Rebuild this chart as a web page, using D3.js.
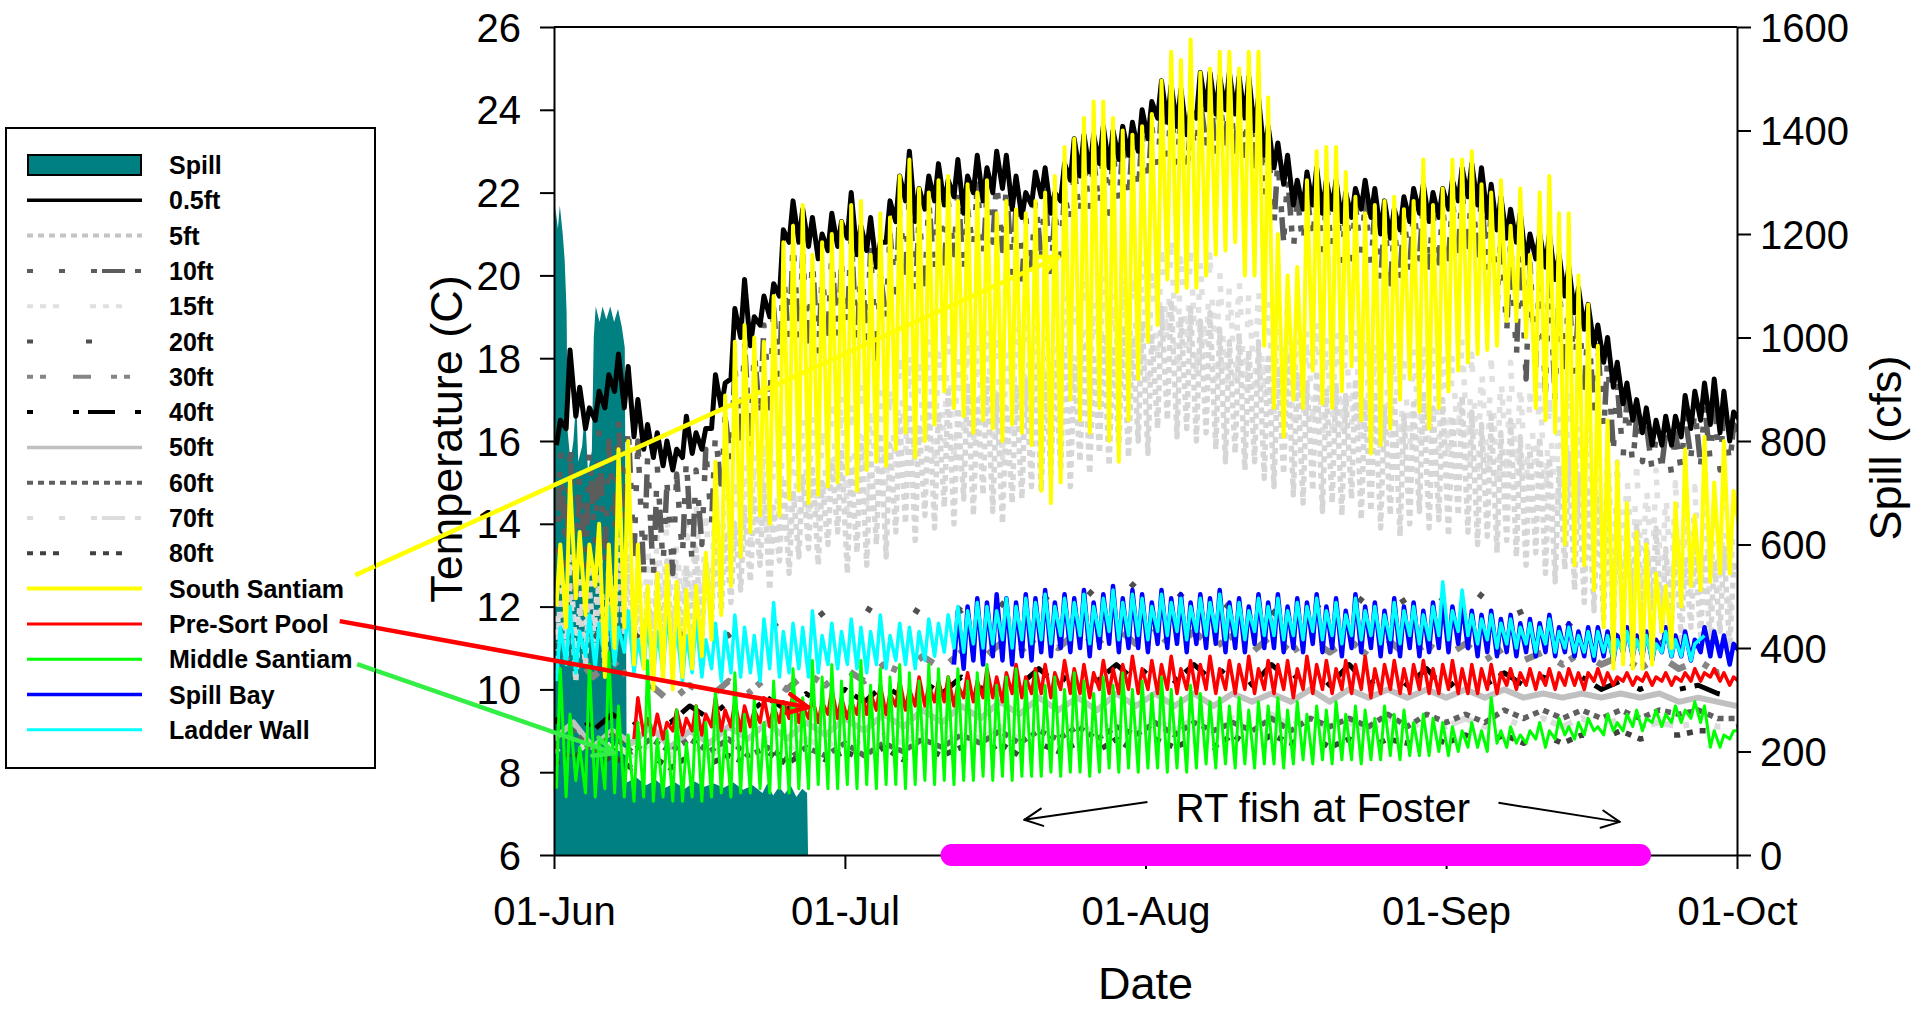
<!DOCTYPE html>
<html>
<head>
<meta charset="utf-8">
<script src="https://cdn.jsdelivr.net/npm/d3@7"></script>
<style>
  body { margin: 0; background: #fff; }
  text { font-family: "Liberation Sans", Arial, sans-serif; }
</style>
</head>
<body>
<svg id="chart" width="1917" height="1010"></svg>
<script>
// ---- data (day 0 = 01-Jun) ----
const tempTicks = [6, 8, 10, 12, 14, 16, 18, 20, 22, 24, 26];
const spillTicks = [0, 200, 400, 600, 800, 1000, 1200, 1400, 1600];

// spill, [day, cfs]
const spill = [[0,1180],[0.15,1250],[0.4,1210],[0.6,1255],[0.9,1200],[1.1,1150],[1.3,1050],[1.4,820],[1.7,760],[2.0,800],
  [2.3,880],[2.5,760],[2.9,790],[3.2,860],[3.5,740],[3.9,780],[4.1,1000],[4.3,1060],[4.7,1030],[5.0,1060],[5.4,1035],
  [5.8,1060],[6.2,1030],[6.6,1055],[7.0,1020],[7.3,980],[7.5,140],[8.5,150],[9.5,135],[10.5,145],[11.5,130],[12.5,140],
  [13.5,128],[14.5,142],[15.5,132],[16.5,138],[17.5,130],[18.5,140],[19.5,126],[20.5,135],[21.5,120],[22.0,138],
  [22.6,115],[23.2,132],[23.8,118],[24.4,135],[25.0,112],[25.6,128],[26.1,120],[26.2,0]];

// daily highs / lows
const ft05Hi = [16.5,18.2,17.3,16.8,17.2,17.6,18.1,17.8,17.0,16.4, 16.2,16.0,15.8,16.6,16.2,16.3,17.6,17.4,19.2,19.9,
  19.0,19.5,19.8,21.1,21.8,21.6,21.4,21.0,21.5,21.3, 22.0,21.2,21.4,20.8,21.8,22.4,23.0,22.1,22.4,22.7,
  22.3,22.8,22.4,22.9,22.6,23.0,22.9,22.4,22.0,22.5, 22.6,22.0,22.7,23.3,23.4,23.4,23.6,23.5,23.6,23.7,
  24.0,24.2,24.7,24.6,24.5,24.0,24.9,24.9,24.8,24.9, 24.8,24.8,24.3,23.6,23.2,22.9,22.3,22.5,22.6,22.3,
  22.3,22.0,22.1,22.3,22.1,21.8,21.6,21.9,22.1,22.2, 22.0,22.1,22.3,22.6,22.7,22.6,22.2,21.9,21.6,21.5,
  21.0,21.0,21.0,20.5,20.2,19.7,19.3,18.8,18.5,17.9, 17.4,17.0,16.8,16.5,16.6,16.6,17.1,17.2,17.4,17.5, 17.2,16.7,16.4];
const ft05Lo = [15.9,16.3,16.6,16.3,16.5,16.8,17.2,16.8,16.1,15.8, 15.6,15.4,15.3,15.6,15.7,15.8,16.3,16.8,17.5,18.5,
  18.3,18.8,19.0,19.5,20.8,20.8,20.7,20.4,20.6,20.7, 20.9,20.5,20.6,20.2,20.8,21.3,21.8,21.3,21.6,21.8,
  21.7,21.9,21.5,22.0,21.8,22.0,22.1,21.6,21.4,21.7, 21.9,21.5,21.8,22.3,22.4,22.5,22.7,22.6,22.8,22.9,
  23.0,23.3,23.8,23.7,23.6,23.4,23.8,24.0,23.9,24.0, 23.9,23.8,23.5,22.9,22.6,22.2,21.7,21.6,21.7,21.5,
  21.6,21.3,21.4,21.6,21.4,21.0,20.9,21.1,21.3,21.5, 21.3,21.4,21.6,21.8,21.9,21.7,21.4,21.1,20.9,20.8,
  20.3,20.4,20.2,19.9,19.5,19.1,18.7,18.3,17.9,17.3, 16.9,16.5,16.2,15.9,15.9,15.9,16.1,16.3,16.5,16.4, 16.2,16.0];

const ft10Hi = [15.8,16.0,15.5,15.8,16.2,16.0,16.5,16.4,16.0,15.6, 15.4,15.0,15.2,15.6,15.3,15.8,16.2,16.6,17.8,18.4,
  18.2,18.8,19.2,20.2,20.8,20.5,20.4,20.0,20.5,20.3, 21.0,20.4,20.6,20.0,21.0,21.6,22.0,21.4,21.8,22.0,
  21.8,22.1,21.6,22.2,22.0,22.3,22.2,21.7,21.4,21.9, 22.0,21.5,22.0,22.6,22.8,22.8,23.0,23.0,23.1,23.2,
  23.4,23.6,24.0,24.0,23.9,23.6,24.2,24.4,24.2,24.4, 24.2,24.2,23.8,23.2,22.8,22.4,21.9,22.0,22.1,21.8,
  21.9,21.6,21.7,21.8,21.6,21.3,21.1,21.4,21.6,21.8, 21.5,21.6,21.8,22.0,22.1,22.0,21.6,21.2,20.9,20.6,
  20.3,20.2,20.0,19.8,19.6,19.2,18.8,18.3,18.0,17.4, 17.0,16.6,16.4,16.1,16.2,16.2,16.6,16.8,16.9,17.0, 16.8,16.4,16.0];
const ft10Lo = [12.5,13.0,12.2,12.8,13.5,13.0,13.8,14.0,13.2,12.8, 12.6,13.0,12.8,13.2,13.0,13.5,14.0,14.8,15.5,16.0,
  15.8,16.5,16.8,17.5,18.2,18.5,18.3,18.0,18.6,18.4, 18.8,18.2,18.5,18.0,19.0,19.6,20.0,19.5,19.8,20.0,
  20.2,20.5,20.0,20.6,20.4,20.8,20.6,20.0,19.8,20.2, 20.4,20.0,20.5,21.2,21.4,21.5,21.6,21.5,21.7,21.8,
  22.0,22.2,22.6,22.8,22.6,22.4,23.0,23.2,23.0,23.2, 23.0,22.9,22.5,21.8,21.2,20.8,20.6,20.7,20.8,20.5,
  20.6,20.3,20.4,20.5,20.2,19.9,19.8,20.0,20.2,20.4, 20.2,20.3,20.4,20.6,20.7,20.5,20.0,19.2,18.6,18.0,
  17.5,17.8,17.2,17.0,17.8,17.6,17.3,16.8,16.2,15.8, 15.6,15.4,15.5,15.3,15.4,15.2,15.3,15.6,15.4,15.5, 15.3,15.4];

const ft15Hi = [12.8,13.2,12.6,13.0,13.4,12.9,13.6,13.8,13.2,13.5, 13.8,14.2,13.6,14.0,14.5,14.2,14.8,15.2,15.0,15.6,
  15.8,16.2,15.6,16.4,16.0,16.6,16.8,16.2,16.9,17.2, 16.8,17.3,17.0,17.6,17.2,18.0,18.3,17.8,18.4,18.1,
  18.6,18.2,18.8,18.4,18.9,18.5,18.2,18.7,18.9,19.2, 19.0,19.4,19.6,19.2,19.8,19.5,20.0,19.7,20.2,19.9,
  20.3,20.0,20.6,20.8,20.4,20.6,20.3,20.5,20.1,19.8, 20.0,19.6,19.8,19.4,19.2,19.5,19.0,18.8,19.1,18.6,
  18.8,18.5,18.9,18.4,18.6,18.2,18.5,18.0,18.3,18.6, 18.2,18.4,18.0,18.5,18.1,17.8,18.0,17.6,17.9,17.5,
  17.2,17.5,17.0,16.8,17.1,16.6,16.3,16.0,15.8,15.5, 15.2,15.4,15.0,15.3,14.8,15.0,14.6,14.9,14.7,14.5, 14.8,14.4,14.2];
const ft15Lo = [11.0,11.4,10.8,11.2,11.6,11.0,11.8,12.0,11.4,11.2, 11.6,11.9,11.4,11.8,12.2,11.9,12.4,12.6,12.8,13.2,
  13.4,13.8,13.2,13.9,13.6,14.0,14.2,13.8,14.3,14.6, 14.2,14.8,14.5,15.0,14.7,15.3,15.6,15.2,15.8,15.5,
  16.0,15.6,16.2,15.8,16.3,15.9,15.6,16.1,16.3,16.6, 16.4,16.8,17.0,16.6,17.2,16.9,17.4,17.1,17.6,17.3,
  17.7,17.4,18.0,18.2,17.8,18.0,17.7,17.9,17.5,17.2, 17.4,17.0,17.2,16.8,16.6,16.9,16.4,16.2,16.5,16.0,
  16.2,15.9,16.3,15.8,16.0,15.6,15.9,15.4,15.7,16.0, 15.6,15.8,15.4,15.9,15.5,15.2,15.4,15.0,15.3,14.9,
  14.6,14.9,14.4,14.2,14.5,14.0,13.7,13.4,13.2,12.9, 12.6,12.8,12.4,12.7,12.2,12.4,12.0,12.3,12.1,11.9, 12.2,11.8];

const ft5Hi = [12.2,12.6,12.0,12.4,12.8,12.3,13.0,13.2,12.6,12.4, 12.8,13.1,12.6,13.0,13.4,13.1,13.6,13.8,14.0,14.4,
  14.6,15.0,14.4,15.1,14.8,15.2,15.4,15.0,15.5,15.8, 15.4,16.0,15.7,16.2,15.9,16.5,16.8,16.4,17.0,16.7,
  17.2,16.8,17.4,17.0,17.5,17.1,16.8,17.3,17.5,17.8, 17.6,18.0,18.2,17.8,18.4,18.1,18.6,18.3,18.8,18.5,
  18.9,18.6,19.2,19.4,19.0,19.2,18.9,19.1,18.7,18.4, 18.6,18.2,18.4,18.0,17.8,18.1,17.6,17.4,17.7,17.2,
  17.4,17.1,17.5,17.0,17.2,16.8,17.1,16.6,16.9,17.2, 16.8,17.0,16.6,17.1,16.7,16.4,16.6,16.2,16.5,16.1,
  15.8,16.1,15.6,15.4,15.7,15.2,14.9,14.6,14.4,14.1, 13.8,14.0,13.6,13.9,13.4,13.6,13.2,13.5,13.3,13.1, 13.4,13.0,12.8];
const ft5Lo = [10.4,10.8,10.2,10.6,11.0,10.5,11.2,11.4,10.8,10.6, 10.9,11.2,10.8,11.1,11.5,11.2,11.7,11.9,12.1,12.4,
  12.6,13.0,12.4,13.1,12.8,13.2,13.4,13.0,13.5,13.8, 12.8,13.3,13.0,13.5,13.2,13.8,14.0,13.6,14.2,13.9,
  14.4,14.0,14.6,14.2,14.7,14.3,14.0,14.5,14.6,14.9, 14.8,15.2,15.3,14.9,15.5,15.2,15.7,15.4,15.9,15.6,
  16.0,15.7,16.3,16.5,16.1,16.3,16.0,16.2,15.8,15.5, 15.7,15.3,15.5,15.1,14.9,15.2,14.7,14.5,14.8,14.3,
  14.5,14.2,14.6,14.1,14.3,13.9,14.2,13.7,14.0,14.3, 13.9,14.1,13.7,14.2,13.8,13.5,13.7,13.3,13.6,13.2,
  13.0,13.3,12.8,12.6,12.9,12.4,12.1,11.9,11.7,11.5, 11.8,12.0,11.6,11.9,11.4,11.6,11.2,11.5,11.3,11.1, 11.4,11.0];

const southHi = [13.5,15.1,13.8,13.5,14.0,13.5,15.8,16.0,13.5,12.5, 12.8,13.0,12.6,12.4,12.5,13.3,15.5,17.1,18.4,18.8,
  18.5,18.4,19.5,20.8,21.2,21.7,20.5,20.8,21.0,21.3, 21.7,21.8,20.5,21.5,21.4,22.4,22.8,22.1,22.0,22.3,
  22.4,21.8,22.2,22.0,22.3,21.5,21.8,21.6,21.5,21.8, 22.0,22.4,23.1,23.3,23.8,24.2,24.2,23.8,23.5,23.4,
  23.6,23.9,24.7,25.4,25.2,25.7,24.9,25.0,25.4,25.4, 25.0,25.4,25.4,24.3,21.0,20.0,20.2,22.3,23.0,23.1,
  23.1,22.5,21.9,21.5,21.7,21.8,21.9,21.6,21.8,22.8, 21.7,22.1,22.8,22.8,23.0,22.2,22.0,22.3,21.2,22.1,
  20.5,22.0,22.4,21.5,21.5,20.0,19.3,18.3,16.5,15.5, 14.5,13.8,13.5,12.8,12.5,14.5,15.8,14.2,16.1,15.0, 16.0,14.8,13.2];
const southLo = [12.0,11.5,12.2,11.8,12.5,10.3,11.0,11.5,10.6,10.5, 10.0,10.2,10.0,10.3,10.5,10.8,11.2,11.8,12.5,13.2,
  13.8,14.2,14.0,14.2,14.6,14.8,14.5,14.7,14.9,15.0, 15.2,14.8,15.3,15.5,15.4,15.8,16.2,15.6,16.0,16.4,
  17.2,16.8,16.6,16.2,16.5,16.3,16.0,16.4,16.2,15.9, 14.8,14.5,15.0,17.0,16.5,16.2,16.8,16.0,15.5,16.5,
  17.5,18.4,18.8,19.9,19.6,19.7,19.7,20.0,20.5,20.6, 20.8,20.0,20.0,18.3,16.8,16.1,17.0,16.8,17.7,16.9,
  16.8,17.2,17.8,16.5,15.7,15.9,16.3,17.0,17.5,16.7, 16.3,16.8,17.2,17.7,17.9,18.1,18.2,18.3,18.9,18.9,
  18.5,16.8,16.5,16.2,13.5,13.0,13.0,12.4,11.5,10.5, 10.6,10.5,10.5,10.6,11.4,11.0,12.0,12.5,12.4,12.6, 12.8,12.8];

const middleHi = [10.5,9.4,8.6,10.6,8.8,10.9,9.6,8.9,9.2,10.7, 8.8,9.0,9.5,8.7,9.6,9.2,10.0,9.0,10.4,9.4,
  9.8,9.2,10.2,9.6,10.5,9.8,10.7,10.3,10.6,10.2, 10.4,10.7,10.1,10.5,10.3,10.6,10.4,10.2,10.6,10.5,
  10.3,10.5,10.2,10.4,10.6,10.1,10.3,10.5,10.2,10.4, 10.1,10.3,10.0,10.4,10.2,9.9,10.3,10.1,10.4,10.0,
  10.2,9.9,10.3,10.0,9.8,10.1,9.9,9.7,9.8,9.6, 9.8,9.5,9.7,9.6,9.8,9.5,9.7,9.4,9.6,9.5,
  9.7,9.4,9.6,9.5,9.3,9.6,9.4,9.5,9.2,9.4, 9.3,9.2,9.1,9.0,9.2,9.0,9.8,9.0,9.1,8.9,
  9.0,9.2,9.0,9.3,9.1,9.2,9.3,9.1,9.4,9.2, 9.4,9.5,9.3,9.5,9.4,9.6,9.5,9.7,9.6,9.0, 8.9,9.0,9.0];
const middleLo = [7.6,7.4,7.8,7.5,7.4,7.6,7.5,7.4,7.3,7.4, 7.3,7.4,7.3,7.3,7.4,7.3,7.4,7.5,7.4,7.5,
  7.5,7.6,7.5,7.6,7.5,7.6,7.6,7.7,7.6,7.6, 7.7,7.6,7.7,7.6,7.7,7.7,7.6,7.7,7.8,7.7,
  7.8,7.7,7.8,7.8,7.9,7.8,7.9,7.8,7.9,7.9, 7.9,8.0,7.9,8.0,8.0,7.9,8.0,8.1,8.0,8.1,
  8.0,8.1,8.1,8.0,8.1,8.0,8.1,8.2,8.1,8.2, 8.1,8.2,8.1,8.2,8.2,8.1,8.2,8.3,8.2,8.3,
  8.2,8.3,8.3,8.2,8.3,8.3,8.4,8.3,8.4,8.4, 8.4,8.5,8.4,8.5,8.6,8.6,8.5,8.7,8.6,8.7,
  8.7,8.8,8.6,8.8,8.9,8.8,8.9,9.0,8.9,9.0, 9.0,9.1,9.0,9.2,9.1,9.2,9.2,9.3,9.2,8.6, 8.6,8.8];

const ladderHi = [11.5,12.0,11.4,11.8,11.6,12.0,11.5,11.9,11.2,11.6, 11.4,11.8,11.5,11.3,11.7,11.2,11.6,11.4,11.8,11.5,
  11.3,11.7,12.1,11.4,11.6,11.5,11.9,11.3,11.6,11.4, 11.7,11.5,11.4,11.8,11.3,11.6,11.5,11.4,11.7,11.6,
  11.8,12.0,11.9,12.1,12.0,11.9,12.2,12.0,12.2,12.1, 12.3,12.0,12.2,12.1,12.3,12.0,12.2,12.4,12.1,12.3,
  12.2,12.0,12.3,12.1,12.2,12.0,12.2,12.1,12.3,12.0, 12.1,11.9,12.2,12.0,12.2,11.9,12.1,12.0,12.2,11.9,
  12.1,11.8,12.2,11.9,12.0,11.8,12.1,11.9,12.0,11.8, 12.0,12.6,11.9,12.4,11.8,11.7,11.8,11.6,11.7,11.5,
  11.6,11.5,11.7,11.4,11.5,11.3,11.4,11.4,11.3,11.2, 11.4,11.2,11.3,11.1,11.4,11.2,11.3,11.1,11.3];
const ladderLo = [10.2,10.6,10.4,10.8,10.5,10.7,10.6,10.9,10.4,10.5, 10.3,10.4,10.6,10.2,10.4,10.3,10.5,10.2,10.4,10.3,
  10.4,10.2,10.5,10.3,10.4,10.5,10.3,10.4,10.6,10.5, 10.6,10.5,10.4,10.6,10.5,10.7,10.6,10.5,10.7,10.8,
  10.9,11.0,10.9,11.1,11.0,11.1,11.2,11.0,11.2,11.1, 11.2,11.1,11.3,11.2,11.3,11.1,11.3,11.4,11.2,11.3,
  11.3,11.2,11.4,11.3,11.4,11.2,11.4,11.3,11.4,11.2, 11.3,11.2,11.4,11.3,11.3,11.2,11.3,11.2,11.4,11.2,
  11.3,11.1,11.3,11.2,11.3,11.1,11.2,11.1,11.3,11.1, 11.2,11.3,11.2,11.4,11.3,11.1,11.2,11.0,11.1,11.0,
  11.1,10.9,11.1,10.9,11.0,10.9,10.9,10.8,10.9,10.7, 10.9,10.8,10.8,10.7,10.9,10.8,10.8,10.7];

const bayFirstDay = 41;
const bayHi = [11.9,12.0,12.2,12.1,12.3,12.2,12.1,12.3,12.2,
  12.4,12.1,12.3,12.2,12.4,12.1,12.3,12.5,12.2,12.4, 12.3,12.1,12.4,12.2,12.3,12.1,12.3,12.2,12.4,12.1,
  12.2,12.0,12.3,12.1,12.3,12.0,12.2,12.1,12.3,12.0, 12.2,11.9,12.3,12.0,12.1,11.9,12.2,12.0,12.1,11.9,
  12.1,12.2,12.0,12.1,11.9,11.8,11.9,11.7,11.8,11.6, 11.7,11.6,11.8,11.5,11.6,11.4,11.5,11.5,11.4,11.3,
  11.5,11.3,11.4,11.2,11.5,11.3,11.4,11.2,11.5,11.4, 11.3,11.1,10.8];
const bayLo = [10.6,10.5,10.7,10.6,10.8,10.7,10.6,10.8,10.7,
  10.9,10.8,11.0,10.9,11.0,10.8,11.0,11.1,10.9,11.0, 11.0,10.9,11.1,11.0,11.1,10.9,11.1,11.0,11.1,10.9,
  11.0,10.9,11.1,11.0,11.0,10.9,11.0,10.9,11.1,10.9, 11.0,10.8,11.0,10.9,11.0,10.8,10.9,10.8,11.0,10.8,
  10.9,11.0,10.9,11.1,11.0,10.8,10.9,10.8,10.9,10.8, 10.9,10.8,10.9,10.8,10.9,10.8,10.8,10.7,10.8,10.7,
  10.9,10.8,10.8,10.7,10.9,10.8,10.8,10.7,10.9,10.8, 10.8,10.6];

const poolFirstDay = 8;
const poolHi = [9.8,9.3,
  9.4,9.2,9.5,9.3,9.6,9.4,9.8,9.5,9.7,9.6, 9.5,9.8,9.6,9.7,9.9,9.6,9.8,9.7,10.0,9.8,
  9.7,10.0,9.9,10.1,9.9,10.2,10.0,10.3,10.1,10.2, 10.3,10.1,10.4,10.2,10.5,10.3,10.4,10.6,10.3,10.5,
  10.6,10.4,10.7,10.5,10.6,10.4,10.7,10.5,10.6,10.8, 10.5,10.7,10.6,10.8,10.5,10.7,10.6,10.8,10.5,10.7,
  10.6,10.8,10.5,10.7,10.6,10.7,10.5,10.8,10.6,10.7, 10.5,10.7,10.6,10.8,10.5,10.6,10.7,10.5,10.6,10.7,
  10.5,10.6,10.7,10.5,10.6,10.5,10.6,10.4,10.5,10.4, 10.5,10.4,10.5,10.4,10.5,10.4,10.4,10.5,10.4,10.3,
  10.4,10.3,10.4,10.3,10.4,10.3,10.4,10.5,10.4,10.5, 10.4,10.3,10.1];
const poolLo = [8.8,8.9,
  8.9,8.8,9.0,8.9,9.0,8.9,9.1,9.0,9.1,9.0, 9.1,9.2,9.1,9.2,9.3,9.2,9.3,9.2,9.4,9.3,
  9.3,9.4,9.4,9.5,9.4,9.6,9.5,9.6,9.6,9.7, 9.7,9.6,9.8,9.7,9.8,9.8,9.7,9.9,9.8,9.9,
  9.9,9.8,10.0,9.9,9.9,9.8,10.0,9.9,9.9,10.0, 9.9,10.0,9.9,10.0,9.9,10.0,9.9,10.0,9.9,10.0,
  9.9,10.0,9.9,10.0,9.9,10.0,9.8,10.0,9.9,10.0, 9.9,10.0,9.9,10.0,9.8,9.9,10.0,9.9,9.9,10.0,
  9.9,9.9,10.0,9.9,9.9,9.9,10.0,9.9,10.1,10.0, 10.1,10.0,10.1,10.0,10.1,10.1,10.0,10.2,10.1,10.1,
  10.2,10.1,10.2,10.1,10.2,10.1,10.2,10.2,10.2,10.3, 10.2,10.1];

// deeper loggers, one value every 2 days
const deepStep = 2;
const ft20 = [11.0,11.6,11.2,11.8,11.4,11.0,11.5,11.2,11.6,11.3, 11.7,11.4,11.8,11.5,11.9,11.6,12.0,11.7,12.1,11.8,
  12.3,11.9,12.4,12.0,12.5,12.1,12.4,12.0,12.5,12.1, 12.6,12.2,12.4,12.0,12.3,11.9,12.2,11.8,12.3,11.9,
  12.2,11.8,12.4,11.9,12.2,11.7,12.3,11.8,12.4,11.7, 11.9,11.5,11.7,11.3,11.6,11.2,11.5,11.1,11.4,11.0, 11.2,10.9];
const ft30 = [10.5,10.9,10.3,10.7,10.2,10.1,9.7,10.1,9.8,10.2, 9.9,10.3,10.0,10.4,10.1,10.5,10.2,10.6,10.4,10.8,
  10.5,10.9,10.7,11.1,10.9,11.3,11.0,11.4,11.1,11.5, 11.1,11.4,11.0,11.4,11.0,11.3,10.9,11.3,10.9,11.2,
  10.9,11.2,10.8,11.2,10.8,11.1,10.8,11.1,10.7,11.0, 10.7,10.9,10.6,10.9,10.6,10.8,10.5,10.8,10.5,10.7, 10.4,10.5];
const ft40 = [9.2,9.6,9.0,9.4,9.1,9.5,9.2,9.6,9.3,9.7, 9.4,9.8,9.5,9.9,9.6,10.0,9.7,10.1,9.8,10.2,
  9.9,10.3,10.0,10.4,10.1,10.5,10.1,10.6,10.2,10.6, 10.2,10.7,10.2,10.6,10.2,10.7,10.1,10.6,10.2,10.6,
  10.1,10.6,10.1,10.5,10.1,10.5,10.0,10.4,10.1,10.4, 10.1,10.3,10.1,10.3,10.0,10.2,10.0,10.2,10.0,10.1, 9.9,9.8];
const ft50 = [8.8,9.2,8.6,9.0,8.7,9.1,8.6,9.0,8.7,9.1, 8.8,9.2,8.8,9.2,8.9,9.3,9.0,9.4,9.1,9.5,
  9.2,9.6,9.3,9.7,9.4,9.8,9.5,9.8,9.5,9.9, 9.6,9.9,9.6,9.9,9.6,9.9,9.7,9.9,9.7,10.0,
  9.7,10.0,9.8,10.0,9.8,10.0,9.8,10.0,9.8,10.0, 9.8,9.9,9.8,9.9,9.8,9.9,9.8,9.9,9.7,9.8, 9.7,9.6];
const ft60 = [8.6,9.0,8.5,8.9,8.5,8.8,8.5,8.8,8.5,8.8, 8.4,8.6,8.3,8.6,8.4,8.7,8.4,8.7,8.5,8.8,
  8.6,8.9,8.7,9.0,8.7,9.0,8.8,9.1,8.8,9.1, 8.9,9.2,8.9,9.2,9.0,9.2,9.0,9.3,9.0,9.3,
  9.1,9.3,9.1,9.4,9.1,9.4,9.2,9.4,9.2,9.5, 9.3,9.5,9.3,9.5,9.3,9.5,9.3,9.5,9.4,9.5, 9.3,9.3];
const ft70 = [8.5,8.8,8.4,8.7,8.4,8.7,8.4,8.7,8.4,8.7, 8.5,8.8,8.5,8.8,8.6,8.9,8.6,8.9,8.7,9.0,
  8.7,9.0,8.8,9.1,8.8,9.1,8.9,9.2,8.9,9.2, 9.0,9.3,9.0,9.3,9.1,9.3,9.1,9.4,9.1,9.4,
  9.0,9.2,9.0,9.3,9.0,9.3,9.1,9.3,9.1,9.3, 9.1,9.3,9.1,9.3,9.1,9.3,9.1,9.2,9.1,9.2, 9.1,9.1];
const ft80 = [8.2,8.5,8.1,8.4,8.1,8.4,8.1,8.4,8.2,8.4, 8.2,8.5,8.2,8.5,8.3,8.5,8.3,8.6,8.3,8.6,
  8.4,8.6,8.4,8.7,8.4,8.7,8.5,8.7,8.5,8.8, 8.5,8.8,8.6,8.8,8.6,8.9,8.6,8.9,8.7,8.9,
  8.6,8.8,8.6,8.8,8.7,8.9,8.7,8.9,8.7,8.9, 8.7,8.9,8.7,8.9,8.8,9.0,8.8,8.9,8.9,9.0, 9.0,9.1];

// annotations, [day, temperature]
const fishPeriod = [41, 112];
const fishLabel = "RT fish at Foster";
const fishLabelAt = [79.3, 6.8];
const fishArrows = [[[61.2, 7.28], [48.5, 6.85]], [[97.4, 7.26], [109.9, 6.8]]];
const pointers = [
  { color: "#ffff00", from: [-20.5, 12.76], to: [52.0, 20.44] },
  { color: "#ff0000", from: [-22.1, 11.65], to: [26.2, 9.57] },
  { color: "#33ee44", from: [-20.3, 10.61], to: [6.2, 8.46] }
];

const legendNames = ["Spill", "0.5ft", "5ft", "10ft", "15ft", "20ft", "30ft", "40ft", "50ft", "60ft",
  "70ft", "80ft", "South Santiam", "Pre-Sort Pool", "Middle Santiam", "Spill Bay", "Ladder Wall"];

// ---- styles ----
const style = {
  "0.5ft": { color: "#000000", width: 5, legendWidth: 3.5 },
  "5ft": { color: "#d6d6d6", width: 5.5, dash: "6,5", legendColor: "#c4c4c4", legendWidth: 4 },
  "10ft": { color: "#5c5c5c", width: 5.5, dash: "6,26,6,26,6,5,23,10", legendWidth: 4 },
  "15ft": { color: "#e0e0e0", width: 5.5, dash: "6,7,6,7,6,31", legendWidth: 4 },
  "20ft": { color: "#505050", width: 5.5, dash: "6,53", legendWidth: 4 },
  "30ft": { color: "#858585", width: 6.5, dash: "6,7,6,27,18,20", legendWidth: 4 },
  "40ft": { color: "#000000", width: 5, dash: "6,40,6,9,27,20", legendWidth: 4 },
  "50ft": { color: "#c0c0c0", width: 6, legendWidth: 3.5 },
  "60ft": { color: "#606060", width: 5.5, dash: "6,5", legendWidth: 4 },
  "70ft": { color: "#dcdcdc", width: 6, dash: "6,26,6,26,6,5,23,10", legendWidth: 4 },
  "80ft": { color: "#404040", width: 5.5, dash: "6,7,6,7,6,31", legendWidth: 4 },
  "South Santiam": { color: "#ffff00", width: 4, legendWidth: 4 },
  "Pre-Sort Pool": { color: "#ff0000", width: 3.5, legendWidth: 3 },
  "Middle Santiam": { color: "#00ff00", width: 3, legendWidth: 3 },
  "Spill Bay": { color: "#0000ff", width: 4.5, legendWidth: 3.5 },
  "Ladder Wall": { color: "#00ffff", width: 3.5, legendWidth: 3 }
};
const spillColor = "#008080";

// ---- helpers ----
const startDate = new Date(Date.UTC(2012, 5, 1));
const endDate = new Date(Date.UTC(2012, 9, 1));
const toDate = d => new Date(startDate.getTime() + d * 864e5);

function daily(lo, hi, first) {
  const pts = [];
  const n = Math.max(lo.length, hi.length);
  for (let i = 0; i < n; i++) {
    if (lo[i] != null) pts.push([first + i + 0.25, lo[i]]);
    if (hi[i] != null) pts.push([first + i + 0.65, hi[i]]);
  }
  return pts;
}
const stepped = vals => vals.map((v, i) => [i * deepStep, v]);

const series = [
  ["15ft", daily(ft15Lo, ft15Hi, 0)],
  ["5ft", daily(ft5Lo, ft5Hi, 0)],
  ["70ft", stepped(ft70)],
  ["50ft", stepped(ft50)],
  ["60ft", stepped(ft60)],
  ["80ft", stepped(ft80)],
  ["30ft", stepped(ft30)],
  ["20ft", stepped(ft20)],
  ["10ft", daily(ft10Lo, ft10Hi, 0)],
  ["40ft", stepped(ft40)],
  ["0.5ft", daily(ft05Lo, ft05Hi, 0)],
  ["Spill Bay", daily(bayLo, bayHi, bayFirstDay)],
  ["Ladder Wall", daily(ladderLo, ladderHi, 0)],
  ["Pre-Sort Pool", daily(poolLo, poolHi, poolFirstDay)],
  ["Middle Santiam", daily(middleLo, middleHi, 0)],
  ["South Santiam", daily(southLo, southHi, 0)]
];

// ---- scales ----
const pLeft = 554, pRight = 1737, pTop = 27, pBottom = 855;
const x = d3.scaleUtc().domain([startDate, endDate]).range([pLeft, pRight]);
const yT = d3.scaleLinear().domain([6, 26]).range([pBottom, pTop]);
const yS = d3.scaleLinear().domain([0, 1600]).range([pBottom, pTop]);
const px = d => x(toDate(d));

const svg = d3.select("#chart");
svg.append("rect").attr("width", 1917).attr("height", 1010).attr("fill", "#fff");

svg.append("clipPath").attr("id", "plot")
  .append("rect").attr("x", pLeft).attr("y", pTop).attr("width", pRight - pLeft).attr("height", pBottom - pTop);

const plot = svg.append("g").attr("clip-path", "url(#plot)");

// spill area
plot.append("path")
  .datum(spill)
  .attr("fill", spillColor)
  .attr("d", d3.area().x(p => px(p[0])).y0(yS(0)).y1(p => yS(p[1])));

const line = d3.line().x(p => px(p[0])).y(p => yT(p[1]));
series.forEach(([name, pts]) => {
  const s = style[name];
  plot.append("path")
    .datum(pts)
    .attr("fill", "none")
    .attr("stroke", s.color)
    .attr("stroke-width", s.width)
    .attr("stroke-dasharray", s.dash || null)
    .attr("stroke-linejoin", "round")
    .attr("d", line);
});

// ---- axes ----
const styleAxis = g => {
  g.attr("font-size", 40).attr("font-family", "'Liberation Sans', Arial, sans-serif");
  g.selectAll("path.domain").attr("stroke", "#000").attr("stroke-width", 2);
  g.selectAll(".tick line").attr("stroke", "#000").attr("stroke-width", 2);
  g.selectAll(".tick text").attr("fill", "#000");
};

svg.append("g")
  .attr("transform", `translate(0,${pBottom})`)
  .call(d3.axisBottom(x).ticks(d3.utcMonth.every(1)).tickFormat(d3.utcFormat("%d-%b"))
    .tickSize(14).tickSizeOuter(0).tickPadding(28))
  .call(styleAxis);

svg.append("g")
  .attr("transform", `translate(${pLeft},0)`)
  .call(d3.axisLeft(yT).tickValues(tempTicks).tickSize(14).tickSizeOuter(0).tickPadding(19))
  .call(styleAxis)
  .selectAll(".tick text").attr("dy", "0.35em");

svg.append("g")
  .attr("transform", `translate(${pRight},0)`)
  .call(d3.axisRight(yS).tickValues(spillTicks).tickFormat(d3.format("d"))
    .tickSize(14).tickSizeOuter(0).tickPadding(9))
  .call(styleAxis)
  .selectAll(".tick text").attr("dy", "0.35em");

svg.append("line")
  .attr("x1", pLeft).attr("x2", pRight).attr("y1", pTop).attr("y2", pTop)
  .attr("stroke", "#000").attr("stroke-width", 2);

// axis titles
svg.append("text")
  .attr("transform", "translate(446,439) rotate(-90)")
  .attr("text-anchor", "middle").attr("dy", "0.35em").attr("font-size", 45)
  .text("Temperature (C)");
svg.append("text")
  .attr("transform", "translate(1885,448) rotate(-90)")
  .attr("text-anchor", "middle").attr("dy", "0.35em").attr("font-size", 45)
  .text("Spill (cfs)");
svg.append("text")
  .attr("x", (pLeft + pRight) / 2).attr("y", 999)
  .attr("text-anchor", "middle").attr("font-size", 45)
  .text("Date");

// ---- fish period ----
svg.append("line")
  .attr("x1", px(fishPeriod[0])).attr("x2", px(fishPeriod[1]))
  .attr("y1", yT(6)).attr("y2", yT(6))
  .attr("stroke", "#ff00ff").attr("stroke-width", 22).attr("stroke-linecap", "round");

svg.append("text")
  .attr("x", px(fishLabelAt[0])).attr("y", yT(fishLabelAt[1]))
  .attr("text-anchor", "middle").attr("font-size", 40)
  .text(fishLabel);

function arrow(g, a, b, color, width, head) {
  const x1 = px(a[0]), y1 = yT(a[1]), x2 = px(b[0]), y2 = yT(b[1]);
  const ang = Math.atan2(y2 - y1, x2 - x1);
  g.append("line").attr("x1", x1).attr("y1", y1).attr("x2", x2).attr("y2", y2)
    .attr("stroke", color).attr("stroke-width", width);
  [-0.45, 0.45].forEach(t => {
    g.append("line").attr("x1", x2).attr("y1", y2)
      .attr("x2", x2 - head * Math.cos(ang + t)).attr("y2", y2 - head * Math.sin(ang + t))
      .attr("stroke", color).attr("stroke-width", width).attr("stroke-linecap", "round");
  });
}
const ann = svg.append("g");
fishArrows.forEach(([a, b]) => arrow(ann, a, b, "#000", 2, 20));
pointers.forEach(p => arrow(ann, p.from, p.to, p.color, 4.5, 22));

// ---- legend ----
const lg = svg.append("g");
lg.append("rect").attr("x", 6).attr("y", 128).attr("width", 369).attr("height", 640)
  .attr("fill", "#fff").attr("stroke", "#000").attr("stroke-width", 2);
const rowY = i => 165 + i * 35.3;
legendNames.forEach((name, i) => {
  const y = rowY(i);
  if (name === "Spill") {
    lg.append("rect").attr("x", 28).attr("y", y - 10).attr("width", 113).attr("height", 20)
      .attr("fill", spillColor).attr("stroke", "#000").attr("stroke-width", 2);
  } else {
    const s = style[name];
    lg.append("line").attr("x1", 27).attr("x2", 142).attr("y1", y).attr("y2", y)
      .attr("stroke", s.legendColor || s.color).attr("stroke-width", s.legendWidth || 4)
      .attr("stroke-dasharray", s.dash || null);
  }
  lg.append("text").attr("x", 169).attr("y", y).attr("dy", "0.36em")
    .attr("font-size", 25).attr("font-weight", "bold").text(name);
});
// pointers start inside the legend box, redraw the part over it
pointers.forEach(p => {
  const x1 = px(p.from[0]), y1 = yT(p.from[1]);
  const x2 = px(p.to[0]), y2 = yT(p.to[1]);
  const t = (375 - x1) / (x2 - x1);
  lg.append("line").attr("x1", x1).attr("y1", y1).attr("x2", 375).attr("y2", y1 + t * (y2 - y1))
    .attr("stroke", p.color).attr("stroke-width", 4.5);
});
</script>
</body>
</html>
